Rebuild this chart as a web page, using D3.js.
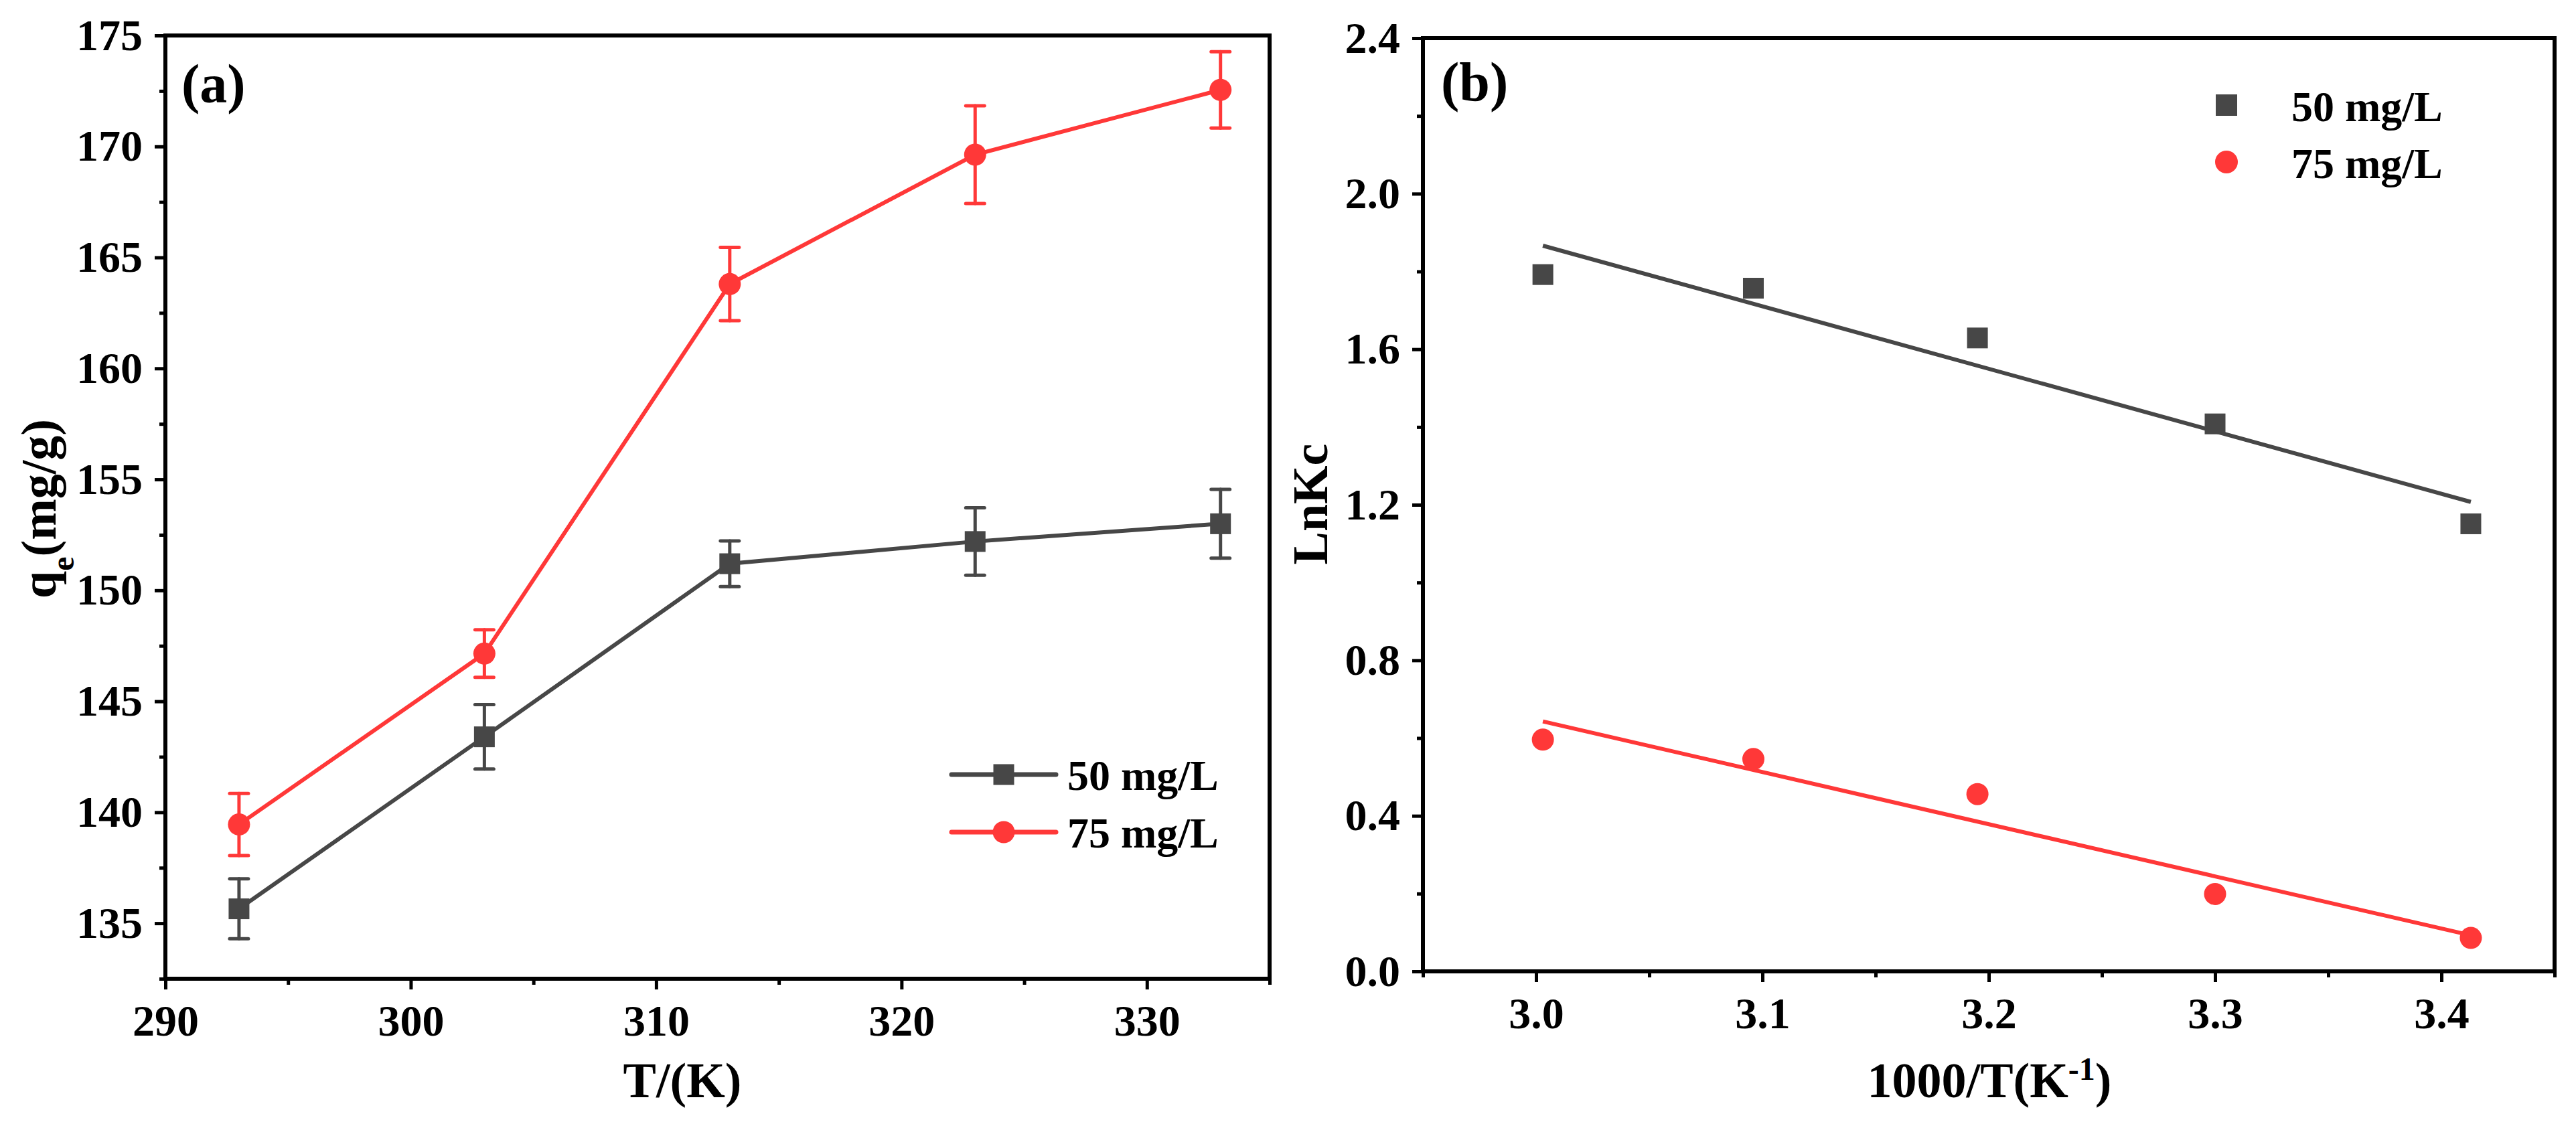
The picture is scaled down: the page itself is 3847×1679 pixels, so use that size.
<!DOCTYPE html>
<html>
<head>
<meta charset="utf-8">
<script src="https://cdn.jsdelivr.net/npm/d3@7"></script>
<style>
  html, body { margin: 0; padding: 0; background: #fff; }
  svg { display: block; }
  text { font-family: "Liberation Serif", "Times New Roman", serif; font-weight: bold; fill: #000; }
</style>
</head>
<body>
<svg id="chart" width="3847" height="1679"></svg>
<script>
// --- DATA ---
const seriesNames = ["50 mg/L", "75 mg/L"];
const seriesColors = ["#474747", "#ff3838"];

// panel (a): qe vs T
const tempK = [293, 303, 313, 323, 333];
const qe50 = [135.65, 143.4, 151.2, 152.2, 153.0];
const qe50Err = [1.35, 1.45, 1.03, 1.52, 1.55];
const qe75 = [139.45, 147.15, 163.8, 169.63, 172.55];
const qe75Err = [1.4, 1.07, 1.65, 2.2, 1.72];

// panel (b): LnKc vs 1000/T
const invT = [3.003, 3.096, 3.195, 3.300, 3.413];
const lnKc50 = [1.792, 1.757, 1.629, 1.408, 1.151];
const lnKc75 = [0.596, 0.546, 0.456, 0.199, 0.086];

// ticks
const tTicks = [290, 300, 310, 320, 330];
const tMinor = [295, 305, 315, 325, 335];
const qeTicks = [135, 140, 145, 150, 155, 160, 165, 170, 175];
const qeMinor = [132.5, 137.5, 142.5, 147.5, 152.5, 157.5, 162.5, 167.5, 172.5];
const invTicks = [3.0, 3.1, 3.2, 3.3, 3.4];
const invMinor = [2.95, 3.05, 3.15, 3.25, 3.35, 3.45];
const lnTicks = [0.0, 0.4, 0.8, 1.2, 1.6, 2.0, 2.4];
const lnMinor = [0.2, 0.6, 1.0, 1.4, 1.8, 2.2];

const svg = d3.select("#chart");
const AXIS_W = 6;

function drawFrame(x, y, xt, xm, yt, ym, fmt) {
    const g = svg.append("g");
    const [x0, x1] = x.range();
    const [y0, y1] = y.range();

    // minor ticks
    g.append("g").attr("transform", `translate(0,${y0})`)
        .call(d3.axisBottom(x).tickValues(xm).tickSize(9).tickSizeOuter(0).tickFormat(""))
        .call(a => a.select(".domain").remove());
    g.append("g").attr("transform", `translate(${x0},0)`)
        .call(d3.axisLeft(y).tickValues(ym).tickSize(9).tickSizeOuter(0).tickFormat(""))
        .call(a => a.select(".domain").remove());

    // major ticks + labels
    g.append("g").attr("transform", `translate(0,${y0})`)
        .call(d3.axisBottom(x).tickValues(xt).tickSize(16).tickSizeOuter(0).tickPadding(22).tickFormat(fmt.x))
        .call(a => a.select(".domain").remove())
        .selectAll("text").style("font-size", "66px");
    g.append("g").attr("transform", `translate(${x0},0)`)
        .call(d3.axisLeft(y).tickValues(yt).tickSize(16).tickSizeOuter(0).tickPadding(18).tickFormat(fmt.y))
        .call(a => a.select(".domain").remove())
        .selectAll("text").style("font-size", "66px");

    g.selectAll(".tick line").attr("stroke", "#000").attr("stroke-width", 5);

    // box
    g.append("rect")
        .attr("x", x0).attr("y", y1)
        .attr("width", x1 - x0).attr("height", y0 - y1)
        .attr("fill", "none").attr("stroke", "#000").attr("stroke-width", AXIS_W);
    return g;
}

function marker(sel, i, cx, cy, size) {
    if (i === 0) {
        sel.append("rect")
            .attr("x", cx - size / 2).attr("y", cy - size / 2)
            .attr("width", size).attr("height", size)
            .attr("fill", seriesColors[0]);
    } else {
        sel.append("circle")
            .attr("cx", cx).attr("cy", cy).attr("r", size / 2 + 1)
            .attr("fill", seriesColors[1]);
    }
}

// --- PANEL (a) ---
const xA = d3.scaleLinear().domain([290, 335]).range([247, 1896]);
const yA = d3.scaleLinear().domain([132.5, 175]).range([1462, 53]);
drawFrame(xA, yA, tTicks, tMinor, qeTicks, qeMinor, { x: d3.format("d"), y: d3.format("d") });

const seriesA = [
    tempK.map((t, i) => ({ x: t, y: qe50[i], e: qe50Err[i] })),
    tempK.map((t, i) => ({ x: t, y: qe75[i], e: qe75Err[i] }))
];
const lineA = d3.line().x(d => xA(d.x)).y(d => yA(d.y));
const gA = svg.append("g");

seriesA.forEach((data, si) => {
    const c = seriesColors[si];
    gA.append("path").datum(data)
        .attr("d", lineA).attr("fill", "none")
        .attr("stroke", c).attr("stroke-width", 6);

    const eb = gA.append("g").attr("stroke", c).attr("stroke-width", 5).attr("stroke-linecap", "round");
    eb.selectAll(".v").data(data).join("line")
        .attr("x1", d => xA(d.x)).attr("x2", d => xA(d.x))
        .attr("y1", d => yA(d.y - d.e)).attr("y2", d => yA(d.y + d.e));
    eb.selectAll(".top").data(data).join("line").attr("class", "top")
        .attr("x1", d => xA(d.x) - 14).attr("x2", d => xA(d.x) + 14)
        .attr("y1", d => yA(d.y + d.e)).attr("y2", d => yA(d.y + d.e));
    eb.selectAll(".bot").data(data).join("line").attr("class", "bot")
        .attr("x1", d => xA(d.x) - 14).attr("x2", d => xA(d.x) + 14)
        .attr("y1", d => yA(d.y - d.e)).attr("y2", d => yA(d.y - d.e));

    data.forEach(d => marker(gA, si, xA(d.x), yA(d.y), 31));
});

// legend (a)
const legA = svg.append("g");
seriesNames.forEach((name, i) => {
    const ly = 1157 + i * 86;
    legA.append("line")
        .attr("x1", 1421).attr("x2", 1577).attr("y1", ly).attr("y2", ly)
        .attr("stroke", seriesColors[i]).attr("stroke-width", 7).attr("stroke-linecap", "round");
    marker(legA, i, 1499, ly, 31);
    legA.append("text").attr("x", 1594).attr("y", ly + 23)
        .style("font-size", "64px").text(name);
});

svg.append("text").attr("x", 271).attr("y", 153).style("font-size", "82px").text("(a)");

svg.append("text").attr("x", 1019).attr("y", 1639)
    .attr("text-anchor", "middle").style("font-size", "74px").text("T/(K)");

const yLabA = svg.append("text")
    .attr("transform", "translate(83,760) rotate(-90)")
    .attr("text-anchor", "middle").style("font-size", "74px");
yLabA.append("tspan").text("q");
yLabA.append("tspan").attr("baseline-shift", "sub").style("font-size", "48px").text("e");
yLabA.append("tspan").text("(mg/g)");

// --- PANEL (b) ---
const xB = d3.scaleLinear().domain([2.95, 3.45]).range([2125, 3815]);
const yB = d3.scaleLinear().domain([0, 2.4]).range([1451, 57]);
drawFrame(xB, yB, invTicks, invMinor, lnTicks, lnMinor, { x: d3.format(".1f"), y: d3.format(".1f") });

const seriesB = [lnKc50, lnKc75].map(vals => invT.map((x, i) => ({ x: x, y: vals[i] })));
const gB = svg.append("g");

seriesB.forEach((data, si) => {
    // least-squares fit of the points
    const mx = d3.mean(data, d => d.x), my = d3.mean(data, d => d.y);
    const slope = d3.sum(data, d => (d.x - mx) * (d.y - my)) / d3.sum(data, d => (d.x - mx) ** 2);
    const ends = d3.extent(data, d => d.x).map(x => ({ x: x, y: my + slope * (x - mx) }));
    gB.append("path").datum(ends)
        .attr("d", d3.line().x(d => xB(d.x)).y(d => yB(d.y)))
        .attr("fill", "none").attr("stroke", seriesColors[si]).attr("stroke-width", 6);
    data.forEach(d => marker(gB, si, xB(d.x), yB(d.y), 31));
});

// legend (b)
const legB = svg.append("g");
seriesNames.forEach((name, i) => {
    const ly = 157 + i * 85;
    marker(legB, i, 3325, ly, 32);
    legB.append("text").attr("x", 3422).attr("y", ly + 24)
        .style("font-size", "64px").text(name);
});

svg.append("text").attr("x", 2152).attr("y", 150).style("font-size", "82px").text("(b)");

const xLabB = svg.append("text").attr("x", 2971).attr("y", 1639)
    .attr("text-anchor", "middle").style("font-size", "74px");
xLabB.append("tspan").text("1000/T(K");
xLabB.append("tspan").attr("baseline-shift", "super").style("font-size", "48px").text("-1");
xLabB.append("tspan").text(")");

svg.append("text")
    .attr("transform", "translate(1982,753) rotate(-90)")
    .attr("text-anchor", "middle").style("font-size", "74px").text("LnKc");
</script>
</body>
</html>
